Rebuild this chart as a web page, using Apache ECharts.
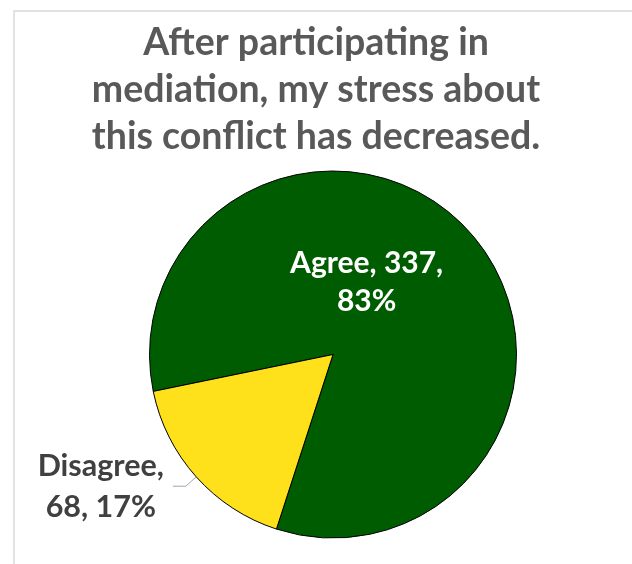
<!DOCTYPE html>
<html>
<head>
<meta charset="utf-8">
<script src="https://cdn.jsdelivr.net/npm/echarts@6/dist/echarts.min.js"></script>
<style>
  html, body { margin: 0; padding: 0; background: #fff; }
  #chart { width: 632px; height: 564px; }
</style>
</head>
<body>
<div id="chart"></div>
<script>
const titleText = 'After participating in\nmediation, my stress about\nthis conflict has decreased.'
const categories = ['Agree', 'Disagree']
const counts = [337, 68]
const colors = ['#005C00', '#FFE11B']

const myChart = echarts.init(document.getElementById('chart'))
const font = 'Lato, "Noto Sans", sans-serif'

const option = {
  backgroundColor: '#ffffff',
  animation: false,
  title: {
    text: titleText,
    left: 'center',
    top: 19,
    padding: [0, 0, 0, 8],
    textStyle: {
      fontFamily: font,
      fontWeight: 'bold',
      fontSize: 37.5,
      lineHeight: 47,
      color: '#595959',
    },
  },
  graphic: [
    {
      type: 'rect',
      shape: { x: 14, y: 11, width: 700, height: 700 },
      style: { fill: 'none', stroke: '#d9d9d9', lineWidth: 1.5 },
      silent: true,
    },
  ],
  series: [
    {
      type: 'pie',
      center: [333, 354.5],
      radius: [0, 183.5],
      startAngle: 191.6,
      clockwise: true,
      percentPrecision: 0,
      itemStyle: {
        borderColor: '#000',
        borderWidth: 1,
      },
      data: categories.map((name, i) => ({
        name: name,
        value: counts[i],
        itemStyle: { color: colors[i] },
        label: i === 0
          ? { position: 'inside', color: '#fff', lineHeight: 38 }
          : { position: 'outside', color: '#404040', lineHeight: 41 },
      })),
      label: {
        fontFamily: font,
        fontWeight: 'bold',
        fontSize: 30,
        formatter: (p) =>
          p.dataIndex === 0
            ? `${p.name}, ${p.value},\n${p.percent}%`
            : `{a|${p.name},}\n{a|${p.value}, ${p.percent}%}`,
        rich: {
          a: {
            fontFamily: font,
            fontWeight: 'bold',
            fontSize: 30.5,
            lineHeight: 41,
            color: '#404040',
            width: 134,
            align: 'center',
          },
        },
        distanceToLabelLine: 5,
      },
      labelLine: {
        show: true,
        length: 14,
        length2: 13,
        lineStyle: { color: '#a6a6a6', width: 1 },
      },
      labelLayout: (params) => {
        if (params.dataIndex === 0) {
          return { dx: -37, dy: -9 }
        }
        return {}
      },
    },
  ],
}
myChart.setOption(option)
window.addEventListener('resize', () => {
  myChart.resize()
})
</script>
</body>
</html>
